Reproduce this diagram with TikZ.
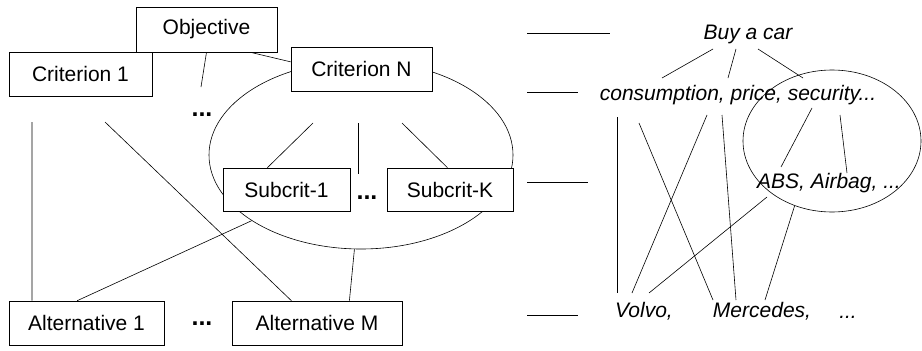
\documentclass[tikz,border=0pt]{standalone}
\usepackage{fontspec}
\setmainfont{Liberation Sans}
\usetikzlibrary{shapes.geometric,calc}
\begin{document}
\begin{tikzpicture}[x=1pt,y=-1pt,
  every node/.style={font=\fontsize{21}{25}\selectfont},
  box/.style={draw,fill=white,line width=0.6pt,inner sep=0pt},
  lbl/.style={inner sep=0pt,font=\fontsize{21}{25}\selectfont\itshape},
  dots/.style={inner sep=0pt,font=\fontsize{25}{30}\selectfont\bfseries},
  ln/.style={line width=0.6pt},
  oval/.style={draw,ellipse,line width=0.6pt,inner sep=0pt}]
\useasboundingbox (0,0) rectangle (922,351);
% left ellipse
\node[oval,minimum width=304pt,minimum height=188pt] (ell) at (361,155) {};
% boxes
\node[box,minimum width=141pt,minimum height=45pt] (obj) at (206.5,29.5) {Objective};
\node[box,minimum width=143pt,minimum height=44pt] (c1) at (80.5,74) {Criterion 1};
\node[box,minimum width=141pt,minimum height=44pt] (cN) at (361.5,69) {Criterion N};
\node[box,minimum width=127pt,minimum height=43pt] (s1) at (286.5,189.5) {Subcrit-1};
\node[box,minimum width=126pt,minimum height=43pt] (sK) at (450,189.5) {Subcrit-K};
\node[box,minimum width=155pt,minimum height=44pt] (a1) at (86.5,323) {Alternative 1};
\node[box,minimum width=170pt,minimum height=44pt] (aM) at (317,323) {Alternative M};
% dots
\node[dots] (d1) at (202,115) {...};
\node[dots] (d2) at (367,198) {...};
\node[dots] (d3) at (202,324) {...};
% free-end coordinates (left)
\coordinate (ov) at (201,87);
\coordinate (c1v) at (32,122);
\coordinate (c1d) at (105,122);
\coordinate (e1) at (313,123);
\coordinate (e2) at (358,123);
\coordinate (e2b) at (358,174);
\coordinate (e3) at (402,123);
% left connectors
\draw[ln] ($(obj.south west)!0.81!(obj.south east)$) -- ($(cN.north west)!0.34!(cN.south west)$);
\draw[ln] (obj.south) -- (ov);
\draw[ln] (c1v) -- ($(a1.north west)!0.15!(a1.north east)$);
\draw[ln] (c1d) -- ($(aM.north west)!0.35!(aM.north east)$);
\draw[ln] (e1) -- ($(s1.north west)!0.35!(s1.north east)$);
\draw[ln] (e2) -- (e2b);
\draw[ln] (e3) -- ($(sK.north west)!0.48!(sK.north east)$);
\draw[ln] ($(a1.north west)!0.44!(a1.north east)$) -- (ell.211);
\draw[ln] (ell.266) -- ($(aM.north west)!0.69!(aM.north east)$);
% right side
\node[oval,minimum width=178pt,minimum height=142pt] (ell2) at (832,141) {};
\node[lbl] (buy) at (748,34) {Buy a car};
\node[lbl] (cons) at (738,95) {consumption, price, security...};
\node[lbl] (abs) at (829,183) {ABS, Airbag, ...};
\node[lbl] (volvo) at (644,311) {Volvo,};
\node[lbl] (merc) at (762,311) {Mercedes,};
\node[lbl] (more) at (848,317) {...};
% level marks
\coordinate (m1a) at (527,33); \coordinate (m1b) at (610,33);
\coordinate (m2a) at (527,92); \coordinate (m2b) at (578,92);
\coordinate (m3a) at (527,182); \coordinate (m3b) at (588,182);
\coordinate (m4a) at (527,315); \coordinate (m4b) at (578,315);
\draw[ln] (m1a) -- (m1b);
\draw[ln] (m2a) -- (m2b);
\draw[ln] (m3a) -- (m3b);
\draw[ln] (m4a) -- (m4b);
% buy a car branches
\coordinate (b1) at (713,49); \coordinate (b1e) at (662,78);
\coordinate (b2) at (736,49); \coordinate (b2e) at (728,78);
\coordinate (b3) at (758,49); \coordinate (b3e) at (803,78);
\draw[ln] (b1) -- (b1e);
\draw[ln] (b2) -- (b2e);
\draw[ln] (b3) -- (b3e);
% security branches
\coordinate (s1a) at (812,108); \coordinate (s1b) at (781,167);
\coordinate (s2a) at (840,115); \coordinate (s2b) at (847,173);
\draw[ln] (s1a) -- (s1b);
\draw[ln] (s2a) -- (s2b);
% to alternatives
\coordinate (r1) at (617,117); \coordinate (r1e) at (617,293);
\coordinate (r2) at (639,123); \coordinate (r2e) at (713,300);
\coordinate (r3) at (707,115); \coordinate (r3e) at (632,293);
\coordinate (r4) at (722,115); \coordinate (r4e) at (736,300);
\coordinate (r5) at (767,197); \coordinate (r5e) at (649,293);
\coordinate (r6e) at (765,300);
\draw[ln] (r1) -- (r1e);
\draw[ln] (r2) -- (r2e);
\draw[ln] (r3) -- (r3e);
\draw[ln] (r4) -- (r4e);
\draw[ln] (r5) -- (r5e);
\draw[ln] (ell2.240) -- (r6e);
\end{tikzpicture}
\end{document}
